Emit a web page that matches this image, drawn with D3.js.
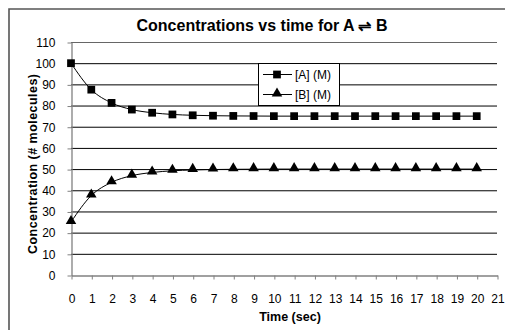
<!DOCTYPE html>
<html>
<head>
<meta charset="utf-8">
<script src="https://cdn.jsdelivr.net/npm/d3@7"></script>
<style>
  html, body { margin: 0; padding: 0; background: #fff; }
  svg { display: block; font-family: "Liberation Sans", Arial, sans-serif; }
</style>
</head>
<body>
<svg id="chart" width="505" height="330"></svg>
<script>
// Time points (s) and concentrations for A <=> B
const times = [0,1,2,3,4,5,6,7,8,9,10,11,12,13,14,15,16,17,18,19,20];
const concA = [100,87.5,81.25,78.1,76.6,75.8,75.4,75.2,75.1,75.05,75,75,75,75,75,75,75,75,75,75,75];
const concB = [25,37.5,43.75,46.9,48.4,49.2,49.6,49.8,49.9,49.95,50,50,50,50,50,50,50,50,50,50,50];
const xTicks = d3.range(0, 22);
const yTicks = d3.range(0, 111, 10);
const seriesNames = ["[A] (M)", "[B] (M)"];

const svg = d3.select("#chart");
const W = 505, H = 330;
const plot = { left: 71, right: 497, top: 42, bottom: 275 };

// outer chart frame (runs off the right and bottom edges)
svg.append("path")
  .attr("d", `M${W + 5},9 H9 V${H + 5}`)
  .attr("fill", "none")
  .attr("stroke", "#555")
  .attr("stroke-width", 1.6);

const x = d3.scaleLinear().domain([0, 21]).range([plot.left, plot.right]);
const y = d3.scaleLinear().domain([0, 110]).range([plot.bottom, plot.top]);

// horizontal gridlines
svg.append("g").selectAll("line")
  .data(yTicks.filter(d => d > 0))
  .join("line")
  .attr("x1", plot.left).attr("x2", plot.right)
  .attr("y1", d => y(d) + 0.5).attr("y2", d => y(d) + 0.5)
  .attr("stroke", d => d === 110 ? "#666" : "#000")
  .attr("stroke-width", 1);

// y axis
const yAxis = svg.append("g")
  .attr("transform", `translate(${plot.left + 0.5},0.5)`)
  .call(d3.axisLeft(y).tickValues(yTicks).tickSize(4).tickSizeOuter(0).tickPadding(12));
// x axis
const xAxis = svg.append("g")
  .attr("transform", `translate(0.5,${plot.bottom + 0.5})`)
  .call(d3.axisBottom(x).tickValues(xTicks).tickSize(4).tickSizeOuter(0).tickPadding(15));

[yAxis, xAxis].forEach(g => {
  g.select(".domain").attr("stroke", "#808080").attr("stroke-width", 1.3);
  g.selectAll(".tick line").attr("stroke", "#808080");
  g.selectAll(".tick text")
    .attr("fill", "#000")
    .style("font-family", '"Liberation Sans", Arial, sans-serif')
    .style("font-size", "12px");
});

// titles
svg.append("text")
  .attr("x", 262).attr("y", 31)
  .attr("text-anchor", "middle")
  .style("font-weight", "bold").style("font-size", "16px")
  .text("Concentrations vs time for A \u21CC B");

svg.append("text")
  .attr("x", 290).attr("y", 321)
  .attr("text-anchor", "middle")
  .style("font-weight", "bold").style("font-size", "12.5px")
  .text("Time (sec)");

svg.append("text")
  .attr("transform", `translate(37,164) rotate(-90)`)
  .attr("text-anchor", "middle")
  .attr("textLength", 180)
  .attr("lengthAdjust", "spacing")
  .style("font-weight", "bold").style("font-size", "12.5px")
  .text("Concentration  (# molecules)");

// series
const line = d3.line().curve(d3.curveMonotoneX);
const ptsA = times.map((t, i) => [x(t), y(concA[i])]);
const ptsB = times.map((t, i) => [x(t), y(concB[i])]);

svg.append("path").attr("d", line(ptsA)).attr("fill", "none").attr("stroke", "#000").attr("stroke-width", 1);
svg.append("path").attr("d", line(ptsB)).attr("fill", "none").attr("stroke", "#000").attr("stroke-width", 1);

const square = d3.symbol().type(d3.symbolSquare).size(60);
const triangle = d3.symbol().type(d3.symbolTriangle).size(48);

svg.append("g").selectAll("path").data(ptsA).join("path")
  .attr("transform", d => `translate(${d[0]},${d[1]})`)
  .attr("d", square).attr("fill", "#000");
svg.append("g").selectAll("path").data(ptsB).join("path")
  .attr("transform", d => `translate(${d[0]},${d[1] - 1})`)
  .attr("d", triangle).attr("fill", "#000");

// legend
const lg = svg.append("g");
lg.append("rect")
  .attr("x", 258.5).attr("y", 63.5).attr("width", 81).attr("height", 42)
  .attr("fill", "#fff").attr("stroke", "#000").attr("stroke-width", 1);
const rows = [{ name: seriesNames[0], sym: square, y: 74.5 }, { name: seriesNames[1], sym: triangle, y: 94.5 }];
rows.forEach(r => {
  lg.append("line").attr("x1", 263).attr("x2", 292).attr("y1", r.y).attr("y2", r.y).attr("stroke", "#000");
  lg.append("path").attr("transform", `translate(277,${r.sym === triangle ? r.y - 1 : r.y})`).attr("d", r.sym).attr("fill", "#000");
  lg.append("text").attr("x", 295).attr("y", r.y + 4).style("font-size", "12px").text(r.name);
});
</script>
</body>
</html>
